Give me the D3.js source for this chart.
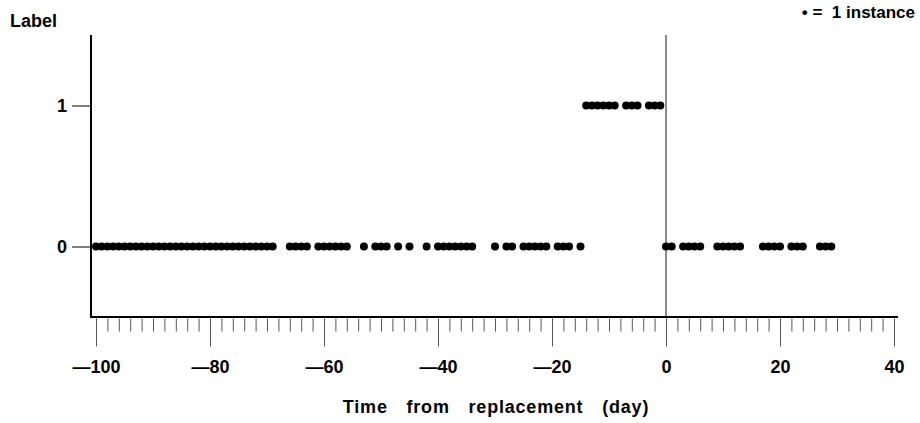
<!DOCTYPE html>
<html>
<head>
<meta charset="utf-8">
<script src="https://cdn.jsdelivr.net/npm/d3@7"></script>
<style>
  html, body { margin: 0; padding: 0; background: #fff; }
  svg { display: block; }
  text { font-family: "Liberation Sans", Arial, Helvetica, sans-serif; font-weight: bold; fill: #000; }
</style>
</head>
<body>
<svg id="chart" width="920" height="423"></svg>
<script>
// ---- data (days from replacement, one dot per instance) ----
const daysLabel0 = [
  -100,-99,-98,-97,-96,-95,-94,-93,-92,-91,-90,-89,-88,-87,-86,-85,
  -84,-83,-82,-81,-80,-79,-78,-77,-76,-75,-74,-73,-72,-71,-70,-69,
  -66,-65,-64,-63, -61,-60,-59,-58,-57,-56, -53, -51,-50,-49, -47, -45,
  -42, -40,-39,-38,-37,-36,-35,-34, -30, -28,-27, -25,-24,-23,-22,-21,
  -19,-18,-17, -15,
  0,1, 3,4,5,6, 9,10,11,12,13, 17,18,19,20, 22,23,24, 27,28,29
];
const daysLabel1 = [-14,-13,-12,-11,-10,-9, -7,-6,-5, -3,-2,-1];
const xMajorTicks = [-100,-80,-60,-40,-20,0,20,40];
const xMinorTicks = [-100,-98,-96,-94,-92,-90,-88,-86,-84,-82,-80,-78,-76,-74,-72,-70,
  -68,-66,-64,-62,-60,-58,-56,-54,-52,-50,-48,-46,-44,-42,-40,-38,-36,-34,-32,-30,
  -28,-26,-24,-22,-20,-18,-16,-14,-12,-10,-8,-6,-4,-2,0,2,4,6,8,10,12,14,16,18,20,
  22,24,26,28,30,32,34,36,38,40];
const yTicks = [0, 1];
const xTitle = "Time from replacement (day)";
const yTitle = "Label";
const legendText = "\u2022 =  1 instance";

const points = daysLabel0.map(d => ({day: d, label: 0}))
  .concat(daysLabel1.map(d => ({day: d, label: 1})));

const svg = d3.select("#chart");
const x = d3.scaleLinear().domain([-100, 40]).range([96, 894]);
const y = d3.scaleLinear().domain([-0.5, 1.5]).range([317, 35]);
const axisY0 = 317, axisX0 = 91;

// reference line at day 0
svg.append("line")
  .attr("x1", x(0)).attr("x2", x(0))
  .attr("y1", y.range()[1]).attr("y2", axisY0)
  .attr("stroke", "#666").attr("stroke-width", 1.5);

// minor ticks
const gMinor = svg.append("g").attr("transform", `translate(0,${axisY0 + 1.5})`)
  .call(d3.axisBottom(x).tickValues(xMinorTicks).tickSize(13).tickFormat(""));
gMinor.select(".domain").remove();
gMinor.selectAll("line").attr("stroke", "#555").attr("stroke-width", 1);

// major ticks + labels
const fmt = v => v < 0 ? "\u2014" + Math.abs(v) : String(v);
const gMajor = svg.append("g").attr("transform", `translate(0,${axisY0 + 1.5})`)
  .call(d3.axisBottom(x).tickValues(xMajorTicks).tickSize(28).tickPadding(14).tickFormat(fmt));
gMajor.select(".domain").remove();
gMajor.selectAll("line").attr("stroke", "#555").attr("stroke-width", 1);
gMajor.selectAll("text").attr("font-size", 18).attr("font-family", null);

// y axis ticks
const gY = svg.append("g").attr("transform", `translate(${axisX0},0)`)
  .call(d3.axisLeft(y).tickValues(yTicks).tickSize(19).tickPadding(5).tickFormat(d3.format("d")));
gY.select(".domain").remove();
gY.selectAll("line").attr("stroke", "#000").attr("stroke-width", 1);
gY.selectAll("text").attr("font-size", 18).attr("font-family", null);

// frame lines (y axis and x axis baseline)
svg.append("line")
  .attr("x1", axisX0).attr("x2", axisX0)
  .attr("y1", y.range()[1]).attr("y2", axisY0 + 1)
  .attr("stroke", "#000").attr("stroke-width", 2);
svg.append("line")
  .attr("x1", axisX0 - 1).attr("x2", x(40) + 4)
  .attr("y1", axisY0).attr("y2", axisY0)
  .attr("stroke", "#000").attr("stroke-width", 2);

// dots
svg.append("g").selectAll("circle").data(points).join("circle")
  .attr("cx", d => x(d.day)).attr("cy", d => y(d.label))
  .attr("r", 4).attr("fill", "#000");

// titles
svg.append("text").attr("x", 10).attr("y", 27).attr("font-size", 18).text(yTitle);
svg.append("text").attr("x", 496).attr("y", 413).attr("text-anchor", "middle")
  .attr("font-size", 18).style("letter-spacing", "0.8px").style("word-spacing", "13px")
  .text(xTitle);
svg.append("text").attr("x", 915).attr("y", 18).attr("text-anchor", "end")
  .attr("font-size", 17).style("white-space", "pre").text(legendText);
</script>
</body>
</html>
